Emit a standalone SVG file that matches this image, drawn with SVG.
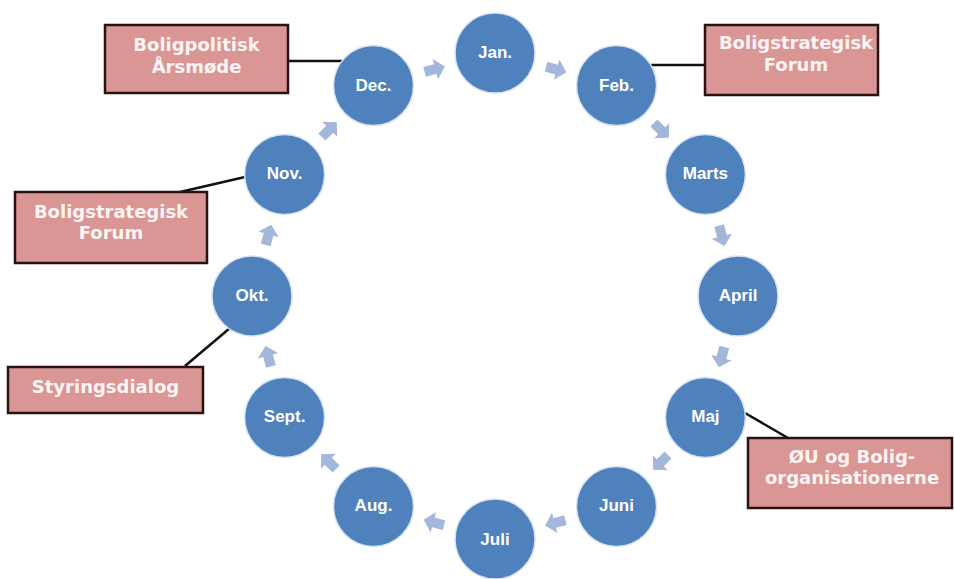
<svg xmlns="http://www.w3.org/2000/svg" width="954" height="579" viewBox="0 0 954 579">
<defs>
<style>
.month circle{fill:#4f81bd;stroke:#d6e3f5;stroke-width:1.5}
.month text{fill:#ffffff;font-family:"Liberation Sans",Arial,sans-serif;font-weight:bold;font-size:17px;text-anchor:middle}
.box rect{fill:#d99694;stroke:#2a1212;stroke-width:2.5}
.box text{fill:#fdf4f4;font-family:"DejaVu Sans",Verdana,sans-serif;font-weight:bold;font-size:18px;text-anchor:middle}
.link{stroke:#111111;stroke-width:2.5;fill:none}
.arr{fill:#a3b6dc}
</style>
<path id="arrow" d="M-10,-5 H1 V-10.5 L11,0 L1,10.5 V5 H-10 Z"/>
</defs>
<rect width="954" height="579" fill="#ffffff"/>
<g id="connectors">
<line class="link" x1="288" y1="61" x2="342" y2="61"/>
<line class="link" x1="651" y1="65" x2="705" y2="65"/>
<line class="link" x1="180" y1="192" x2="245" y2="177"/>
<line class="link" x1="185" y1="366" x2="230" y2="328"/>
<line class="link" x1="745" y1="413" x2="788" y2="438"/>
<g class="arr">
<use href="#arrow" transform="translate(555.7,69.3) rotate(15)"/>
<use href="#arrow" transform="translate(661,130) rotate(45)"/>
<use href="#arrow" transform="translate(721.7,235.3) rotate(75)"/>
<use href="#arrow" transform="translate(721.7,356.7) rotate(105)"/>
<use href="#arrow" transform="translate(661,462) rotate(135)"/>
<use href="#arrow" transform="translate(555.7,522.7) rotate(165)"/>
<use href="#arrow" transform="translate(434.3,522.7) rotate(195)"/>
<use href="#arrow" transform="translate(329,462) rotate(225)"/>
<use href="#arrow" transform="translate(268.3,356.7) rotate(255)"/>
<use href="#arrow" transform="translate(268.3,235.3) rotate(285)"/>
<use href="#arrow" transform="translate(329,130) rotate(315)"/>
<use href="#arrow" transform="translate(434.3,69.3) rotate(345)"/>
</g>
</g>
<g id="jan" class="month"><circle cx="495" cy="53" r="40"/><text x="495" y="58">Jan.</text></g>
<g id="feb" class="month"><circle cx="616.5" cy="85.6" r="40"/><text x="616.5" y="91">Feb.</text></g>
<g id="marts" class="month"><circle cx="705.4" cy="174.5" r="40"/><text x="705.4" y="179">Marts</text></g>
<g id="april" class="month"><circle cx="738" cy="296" r="40"/><text x="738" y="301">April</text></g>
<g id="maj" class="month"><circle cx="705.4" cy="417.5" r="40"/><text x="705.4" y="422">Maj</text></g>
<g id="juni" class="month"><circle cx="616.5" cy="506.4" r="40"/><text x="616.5" y="511">Juni</text></g>
<g id="juli" class="month"><circle cx="495" cy="539" r="40"/><text x="495" y="545">Juli</text></g>
<g id="aug" class="month"><circle cx="373.5" cy="506.4" r="40"/><text x="373.5" y="511">Aug.</text></g>
<g id="sept" class="month"><circle cx="284.6" cy="417.5" r="40"/><text x="284.6" y="422">Sept.</text></g>
<g id="okt" class="month"><circle cx="252" cy="296" r="40"/><text x="252" y="301">Okt.</text></g>
<g id="nov" class="month"><circle cx="284.6" cy="174.5" r="40"/><text x="284.6" y="179">Nov.</text></g>
<g id="dec" class="month"><circle cx="373.5" cy="85.6" r="40"/><text x="373.5" y="91">Dec.</text></g>
<g id="box-aarsmoede" class="box"><rect x="105" y="25" width="183" height="68"/><text x="196.5" y="51">Boligpolitisk</text><text x="196.5" y="73">Årsmøde</text></g>
<g id="box-forum-feb" class="box"><rect x="705" y="25" width="173" height="70"/><text x="796" y="49">Boligstrategisk</text><text x="796" y="71">Forum</text></g>
<g id="box-forum-nov" class="box"><rect x="15" y="192" width="192" height="71"/><text x="111" y="218">Boligstrategisk</text><text x="111" y="239">Forum</text></g>
<g id="box-styring" class="box"><rect x="8" y="367" width="195" height="46"/><text x="105.5" y="393">Styringsdialog</text></g>
<g id="box-oeu" class="box"><rect x="748" y="438" width="204" height="70"/><text x="852" y="463">ØU og Bolig-</text><text x="852" y="484">organisationerne</text></g>
</svg>
